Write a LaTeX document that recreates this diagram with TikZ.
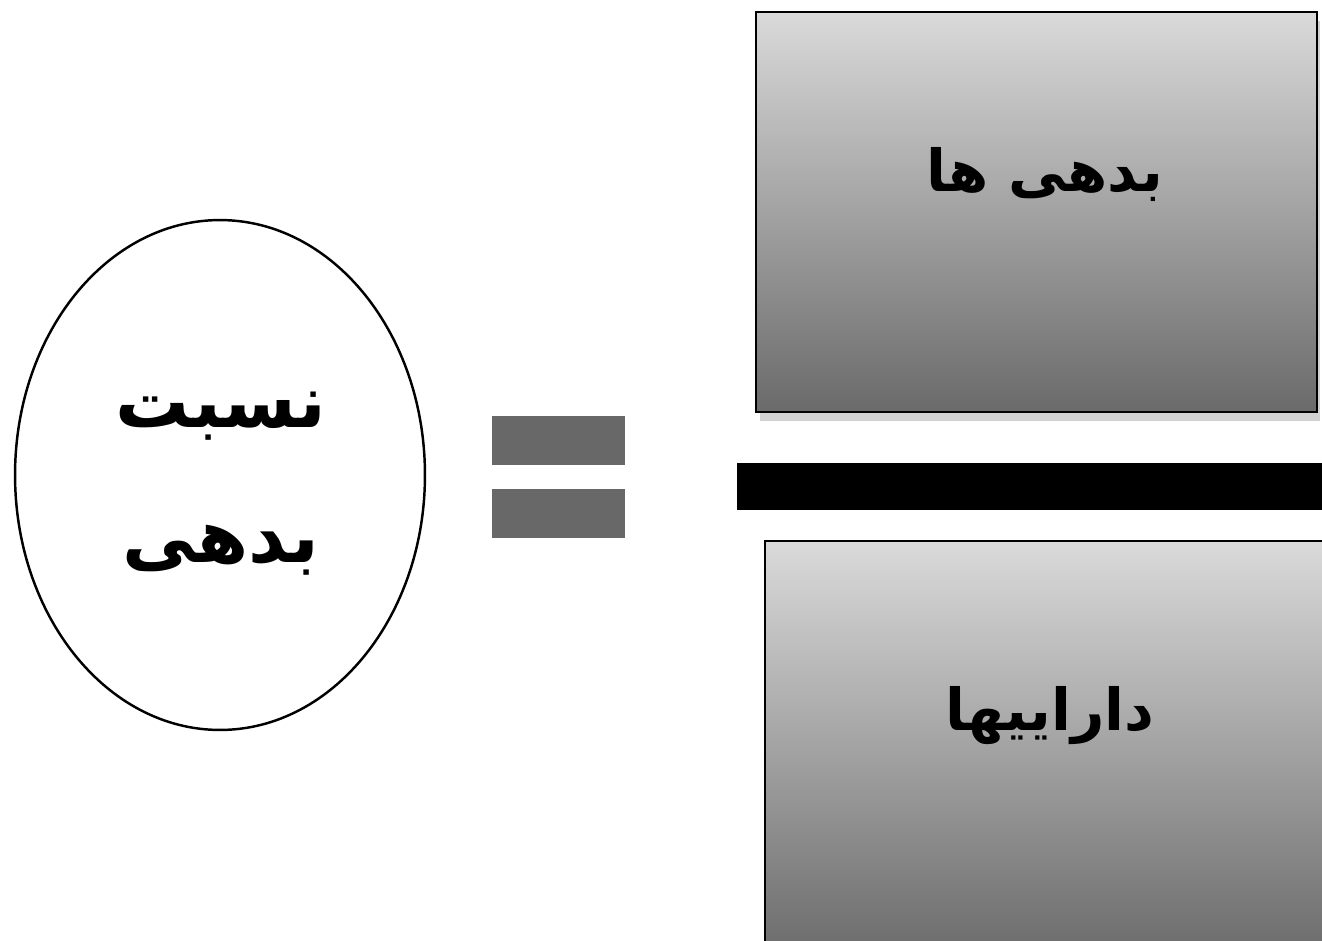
\documentclass[tikz,border=0pt]{standalone}
\usepackage{fontspec}
\newfontfamily\arabicfont[Script=Arabic]{DejaVu Sans}
\TeXXeTstate=1
\usetikzlibrary{shapes.geometric,shadows}
\definecolor{eqgray}{HTML}{686868}
\definecolor{boxtop}{HTML}{DADADA}
\definecolor{boxbottom}{HTML}{6A6A6A}
\tikzset{
  fracbox/.style={draw=black, line width=1.2pt, anchor=north west, inner sep=0pt,
    top color=boxtop, bottom color=boxbottom,
    drop shadow={shadow xshift=2pt, shadow yshift=-5pt, opacity=0.3, fill=black!60}},
  eqbar/.style={fill=eqgray, anchor=north west, inner sep=0pt, minimum width=2.66cm, minimum height=0.98cm},
  faword/.style={font=\arabicfont\bfseries\fontsize{33}{40}\selectfont, inner sep=0pt},
  fawordbig/.style={font=\arabicfont\bfseries\fontsize{42}{50}\selectfont, inner sep=0pt}
}
\begin{document}
\begin{tikzpicture}[x=0.02cm, y=-0.02cm]
  \useasboundingbox (0,0) rectangle (1322,940);
  % left side: ratio
  \node[ellipse, draw=black, line width=1.4pt, fill=white, minimum width=8.2cm, minimum height=10.2cm] (ratio) at (220,475) {};
  \node[fawordbig] (ratioA) at (221,416) {\beginR نسبت\endR};
  \node[fawordbig] (ratioB) at (221,550) {\beginR بدهی\endR};
  % equals sign
  \node[eqbar] (eqtop) at (492,416) {};
  \node[eqbar] (eqbot) at (492,489) {};
  % fraction
  \node[fracbox, minimum width=11.22cm, minimum height=8cm] (debt) at (755,11) {};
  \node[faword] (debtlabel) at (1045,174) {\beginR بدهی ها\endR};
  \node[fill=black, anchor=north west, inner sep=0pt, minimum width=11.8cm, minimum height=0.94cm] (fracline) at (737,463) {};
  \node[fracbox, minimum width=11.6cm, minimum height=8.4cm] (assets) at (764,540) {};
  \node[faword] (assetslabel) at (1050,716) {\beginR داراییها\endR};
\end{tikzpicture}
\end{document}
